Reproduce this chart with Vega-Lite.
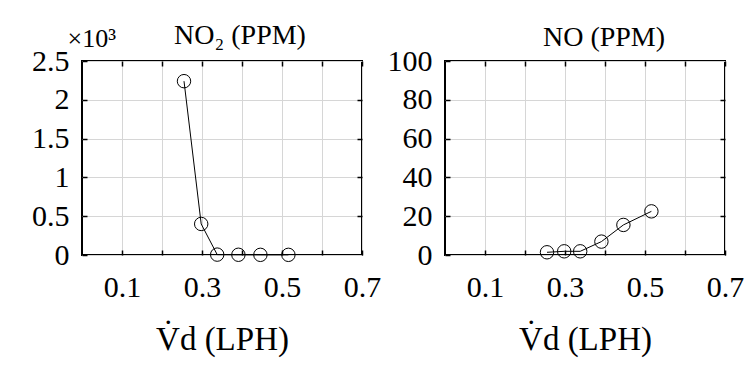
{
  "$schema": "https://vega.github.io/schema/vega-lite/v6.json",
  "background": "white",
  "padding": {"left": 30, "top": 21, "right": 5, "bottom": 5},
  "data": {"values": [
    {"Vd": 0.255, "NO2": 2240, "NO": 1.4},
    {"Vd": 0.298, "NO2": 400, "NO": 1.9},
    {"Vd": 0.338, "NO2": 5, "NO": 1.9},
    {"Vd": 0.391, "NO2": 3, "NO": 6.9},
    {"Vd": 0.446, "NO2": 2, "NO": 15.5},
    {"Vd": 0.516, "NO2": 2, "NO": 22.5}
  ]},
  "config": {
    "font": "Liberation Serif, serif",
    "view": {"stroke": "black", "strokeWidth": 2},
    "axis": {
      "labelFont": "Liberation Serif, serif", "labelFontSize": 30, "labelColor": "black",
      "domain": false, "gridColor": "#d6d6d6", "gridWidth": 1,
      "tickColor": "black", "tickSize": -5, "tickWidth": 1.5,
      "labelFlush": false, "labelOverlap": false,
      "titleFont": "Liberation Serif, serif", "titleColor": "black", "titleFontWeight": "normal"
    },
    "title": {"font": "Liberation Serif, serif", "fontSize": 28, "fontWeight": "normal", "color": "black"},
    "concat": {"spacing": 4}
  },
  "hconcat": [
    {
      "width": 280, "height": 194,
      "title": {"text": "NO₂ (PPM)", "frame": "group", "anchor": "middle", "dx": 18, "offset": -47, "baseline": "alphabetic"},
      "layer": [
        {
          "mark": {"type": "line", "color": "black", "strokeWidth": 1},
          "encoding": {
            "x": {"field": "Vd", "type": "quantitative", "scale": {"domain": [0, 0.7], "nice": false, "zero": false},
              "axis": {"orient": "bottom", "values": [0.1, 0.2, 0.3, 0.4, 0.5, 0.6, 0.7],
                "labelExpr": "round(datum.value*10) % 2 == 1 ? format(datum.value, '.1f') : ''",
                "labelPadding": 46, "labelBaseline": "alphabetic",
                "title": "V̇d (LPH)", "titleFontSize": 33, "titleY": 94, "titleBaseline": "alphabetic"}},
            "y": {"field": "NO2", "type": "quantitative", "scale": {"domain": [0, 2500], "nice": false},
              "axis": {"values": [0, 500, 1000, 1500, 2000, 2500],
                "labelExpr": "format(datum.value/1000, '~g')", "labelPadding": 18, "labelBaseline": "middle",
                "title": "×10³", "titleAngle": 0, "titleFontSize": 26, "titleAlign": "left",
                "titleBaseline": "alphabetic", "titleX": -15, "titleY": -15}}
          }
        },
        {
          "mark": {"type": "point", "shape": "circle", "filled": false, "color": "black", "size": 180, "strokeWidth": 1, "opacity": 1},
          "encoding": {
            "x": {"field": "Vd", "type": "quantitative",
              "axis": {"orient": "top", "values": [0.1, 0.2, 0.3, 0.4, 0.5, 0.6, 0.7], "labels": false, "grid": false, "title": null}},
            "y": {"field": "NO2", "type": "quantitative",
              "axis": {"orient": "right", "values": [500, 1000, 1500, 2000], "labels": false, "grid": false, "title": null}}
          }
        }
      ],
      "resolve": {"axis": {"x": "independent", "y": "independent"}}
    },
    {
      "width": 280, "height": 194,
      "title": {"text": "NO (PPM)", "frame": "group", "anchor": "middle", "dx": 19, "offset": -28, "baseline": "alphabetic"},
      "layer": [
        {
          "mark": {"type": "line", "color": "black", "strokeWidth": 1},
          "encoding": {
            "x": {"field": "Vd", "type": "quantitative", "scale": {"domain": [0, 0.7], "nice": false, "zero": false},
              "axis": {"orient": "bottom", "values": [0.1, 0.2, 0.3, 0.4, 0.5, 0.6, 0.7],
                "labelExpr": "round(datum.value*10) % 2 == 1 ? format(datum.value, '.1f') : ''",
                "labelPadding": 46, "labelBaseline": "alphabetic",
                "title": "V̇d (LPH)", "titleFontSize": 33, "titleY": 94, "titleBaseline": "alphabetic"}},
            "y": {"field": "NO", "type": "quantitative", "scale": {"domain": [0, 100], "nice": false},
              "axis": {"values": [0, 20, 40, 60, 80, 100], "labelPadding": 18, "labelBaseline": "middle", "title": null}}
          }
        },
        {
          "mark": {"type": "point", "shape": "circle", "filled": false, "color": "black", "size": 180, "strokeWidth": 1, "opacity": 1},
          "encoding": {
            "x": {"field": "Vd", "type": "quantitative",
              "axis": {"orient": "top", "values": [0.1, 0.2, 0.3, 0.4, 0.5, 0.6, 0.7], "labels": false, "grid": false, "title": null}},
            "y": {"field": "NO", "type": "quantitative",
              "axis": {"orient": "right", "values": [20, 40, 60, 80], "labels": false, "grid": false, "title": null}}
          }
        }
      ],
      "resolve": {"axis": {"x": "independent", "y": "independent"}}
    }
  ]
}
